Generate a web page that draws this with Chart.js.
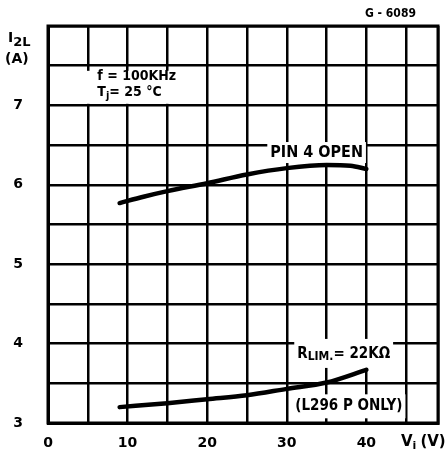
<!DOCTYPE html>
<html>
<head>
<meta charset="utf-8">
<script src="https://cdn.jsdelivr.net/npm/chart.js@4/dist/chart.umd.min.js"></script>
<style>
  html, body { margin: 0; padding: 0; background: #fff; }
  #curves { display: block; }
</style>
</head>
<body>
<canvas id="curves" width="448" height="466"></canvas>
<script>
const vinOpen = [9, 12, 15, 20, 25, 30, 35, 38, 40];
const i2lOpen = [5.77, 5.85, 5.92, 6.02, 6.13, 6.21, 6.25, 6.24, 6.2];
const vinRlim = [9, 15, 20, 25, 30, 35, 40];
const i2lRlim = [3.2, 3.25, 3.3, 3.35, 3.43, 3.51, 3.67];
const xTickLabels = [0, 10, 20, 30, 40];
const yTickLabels = [3, 4, 5, 6, 7];

const FONT = '"DejaVu Sans Condensed", "DejaVu Sans", sans-serif';
const TICK_FONT = '"DejaVu Sans", sans-serif';

const toPoints = (xs, ys) => xs.map((x, i) => ({ x: x, y: ys[i] }));

// draws a run of text pieces, each with its own size and baseline shift
const drawRich = (ctx, parts, x, y, family) => {
  let cx = x;
  parts.forEach((p) => {
    ctx.font = 'bold ' + p.size + 'px ' + (family || FONT);
    ctx.fillText(p.t, cx, y + (p.dy || 0));
    cx += ctx.measureText(p.t).width + (p.gap || 0);
  });
  return cx - x;
};

const richWidth = (ctx, parts) => {
  let w = 0;
  parts.forEach((p) => {
    ctx.font = 'bold ' + p.size + 'px ' + FONT;
    w += ctx.measureText(p.t).width + (p.gap || 0);
  });
  return w;
};

// boxed notes sit on white so the grid is broken behind them
const notes = [
  {
    v: 6.2, i: 7.36, align: 'left', step: 16, pad: [11, 0, 4, 5],
    lines: [
      [{ t: 'f = 100KHz', size: 14 }],
      [{ t: 'T', size: 14 }, { t: 'j', size: 11, dy: 3 }, { t: '= 25 °C', size: 14 }],
    ],
  },
  { v: 33.75, i: 6.4, align: 'center', step: 0, pad: [3, 5, 3, 4], lines: [[{ t: 'PIN 4 OPEN', size: 16 }]] },
  {
    v: 37.15, i: 3.87, align: 'center', step: 0, pad: [3, 9, 3, 8],
    lines: [[{ t: 'R', size: 15 }, { t: 'LIM.', size: 12, dy: 3 }, { t: '= 22KΩ', size: 15 }]],
  },
  { v: 37.8, i: 3.21, align: 'center', step: 0, pad: [3, 6, 3, 6], lines: [[{ t: '(L296 P ONLY)', size: 15 }]] },
];

const notesPlugin = {
  id: 'notes',
  beforeDatasetsDraw(chart) {
    const { ctx, scales } = chart;
    ctx.save();
    ctx.textBaseline = 'middle';
    notes.forEach((n) => {
      const px = scales.x.getPixelForValue(n.v);
      const py = scales.y.getPixelForValue(n.i);
      const widths = n.lines.map((parts) => richWidth(ctx, parts));
      const w = Math.max(...widths);
      const h = 12 + n.step * (n.lines.length - 1);
      const left = n.align === 'center' ? px - w / 2 : px;
      const [pl, pt, pr, pb] = n.pad;
      ctx.fillStyle = '#fff';
      ctx.fillRect(left - pl, py - 6 - pt, w + pl + pr, h + pt + pb);
      ctx.fillStyle = '#000';
      n.lines.forEach((parts, k) => {
        drawRich(ctx, parts, left, py + k * n.step);
      });
    });
    ctx.restore();
  },
  afterDraw(chart) {
    const { ctx, chartArea: a } = chart;
    ctx.save();
    // plot frame
    ctx.strokeStyle = '#000';
    ctx.lineWidth = 3;
    ctx.strokeRect(a.left, a.top, a.right - a.left, a.bottom - a.top);

    ctx.fillStyle = '#000';
    ctx.textBaseline = 'middle';
    ctx.textAlign = 'left';
    // y axis title
    drawRich(ctx, [{ t: 'I', size: 14 }, { t: '2L', size: 13, dy: 5 }], 8, 38, TICK_FONT);
    ctx.font = 'bold 14px ' + TICK_FONT;
    ctx.fillText('(A)', 5, 59);
    // x axis title
    drawRich(ctx, [{ t: 'V', size: 15 }, { t: 'i', size: 11, dy: 4, gap: 4 }, { t: '(V)', size: 15 }], 401, 442, TICK_FONT);
    // drawing number
    ctx.font = 'bold 12px ' + FONT;
    ctx.fillText('G - 6089', 365, 14);
    ctx.restore();
  },
};

const lineStyle = {
  borderColor: '#000',
  borderWidth: 4.5,
  pointRadius: 0,
  fill: false,
  cubicInterpolationMode: 'monotone',
  borderCapStyle: 'round',
};

new Chart(document.getElementById('curves'), {
  type: 'line',
  data: {
    datasets: [
      { label: 'PIN 4 OPEN', data: toPoints(vinOpen, i2lOpen), ...lineStyle },
      { label: 'RLIM = 22KΩ', data: toPoints(vinRlim, i2lRlim), ...lineStyle },
    ],
  },
  options: {
    responsive: false,
    animation: false,
    layout: { padding: { top: 26, right: 10, left: 0, bottom: 0 } },
    plugins: {
      legend: { display: false },
      tooltip: { enabled: false },
    },
    scales: {
      x: {
        type: 'linear',
        min: 0,
        max: 49,
        afterFit(scale) {
          scale.height = 43;
          scale.paddingLeft = 0;
          scale.paddingRight = 0;
        },
        ticks: {
          stepSize: 5,
          padding: 12,
          color: '#000',
          font: { family: TICK_FONT, size: 14, weight: 'bold' },
          callback: (v) => (xTickLabels.includes(v) ? String(v) : ''),
          maxRotation: 0,
          autoSkip: false,
        },
        grid: { color: '#000', lineWidth: 2.5, drawTicks: false },
        border: { color: '#000', width: 3 },
      },
      y: {
        min: 3,
        max: 8,
        afterFit(scale) {
          scale.width = 48;
          scale.paddingTop = 0;
          scale.paddingBottom = 0;
        },
        ticks: {
          stepSize: 0.5,
          padding: 25,
          color: '#000',
          font: { family: TICK_FONT, size: 14, weight: 'bold' },
          callback: (v) => (yTickLabels.includes(v) ? String(v) : ''),
          autoSkip: false,
        },
        grid: { color: '#000', lineWidth: 2.5, drawTicks: false },
        border: { color: '#000', width: 3 },
      },
    },
  },
  plugins: [notesPlugin],
});
</script>
</body>
</html>
